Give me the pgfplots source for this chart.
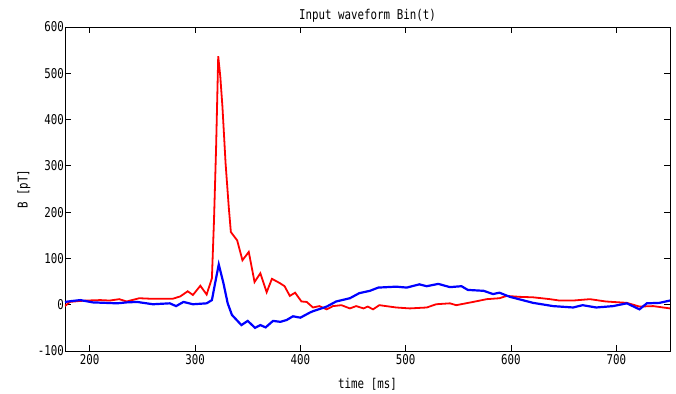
\documentclass[border=0pt]{standalone}
\usepackage{pgfplots}
\pgfplotsset{compat=1.18}
\usepackage{fontspec}
\newfontfamily\plotfont[FakeStretch=0.8]{DejaVu Sans Mono}
\newcommand{\pf}{\fontsize{13.5bp}{16bp}\plotfont}
\begin{document}
\begin{tikzpicture}
\begin{axis}[
  at={(0,0)}, anchor=south west,
  scale only axis, width=605bp, height=324bp,
  xmin=176.5, xmax=751, ymin=-100, ymax=600,
  xtick={200,300,400,500,600,700},
  ytick={-100,0,100,200,300,400,500,600},
  tick align=inside, major tick length=6bp,
  axis line style={line width=0.8bp},
  every tick/.style={line width=0.8bp, black},
  /pgf/number format/assume math mode=true,
  ticklabel style={font=\pf},
  xticklabel style={anchor=north, inner sep=0pt, yshift=-3bp},
  yticklabel style={anchor=east, inner sep=0pt, xshift=-1bp},
  title={Input waveform Bin(t)},
  title style={at={(axis description cs:0.5,1)}, anchor=base, inner sep=0pt, yshift=2bp, font=\pf},
  xlabel={time [ms]},
  xlabel style={at={(axis description cs:0.5,0)}, anchor=base, inner sep=0pt, yshift=-37bp, font=\pf},
  ylabel={B [pT]},
  ylabel style={at={(axis description cs:0,0.5)}, anchor=center, inner sep=0pt, rotate=0, yshift=41bp, font=\pf},
]
\addplot[red, line width=1.8bp] coordinates {
(176.5,-3) (181,6) (190,8) (197,9) (210,10) (219,9) (228,12) (235,7) (247,14) (257,13)
(267,13) (279,13) (286,18) (293,29) (298,21) (305,41) (311,22) (316,57) (318,183) (320,341)
(322,537) (324,492) (326,428) (329,305) (332,211) (334,157) (340,139) (345,96) (351,114)
(356.5,49) (362,68) (368,27) (373,56) (381,46) (385,40) (390,19) (395,26) (401,7) (406,6)
(412,-6) (418,-3) (425,-10) (431,-3) (439,-1) (447,-8) (453,-3) (460,-8) (464,-4) (469,-10)
(475,-1) (491,-6) (504,-8) (520,-6) (529,1) (542,3) (548,-1) (564,6) (577,12) (589,14)
(596,19) (608,17) (621,16) (637,12) (646,9) (659,9) (675,12) (690,7) (710,4) (722,-4)
(735,-3) (751,-8)
};
\addplot[blue, line width=2.2bp] coordinates {
(176.5,6) (183,8) (191,10) (203,5) (215,4) (226,3) (235,5) (245,6) (260,1) (276,3)
(282,-3) (289,6) (298,1) (311,3) (316,10) (319,46) (322.5,87) (327,46) (331,3) (335,-22)
(344,-44) (350,-35) (357,-50) (362,-44) (367,-49) (374,-35) (381,-37) (387,-33) (393,-25)
(400,-28) (409,-17) (412,-14) (420,-8) (425,-4) (434,7) (447,14) (456,25) (466,30) (474,37)
(491,39) (501,37) (513,44) (520,40) (531,45) (542,38) (553,40) (559,32) (574,30) (583,23)
(589,26) (599,17) (621,4) (640,-3) (659,-6) (668,-1) (681,-6) (697,-3) (710,3) (722,-10)
(729,3) (741,4) (751,9)
};
\end{axis}
\pgfresetboundingbox
\path[use as bounding box] (-65bp,-43bp) rectangle (611bp,351bp);
\end{tikzpicture}
\end{document}
